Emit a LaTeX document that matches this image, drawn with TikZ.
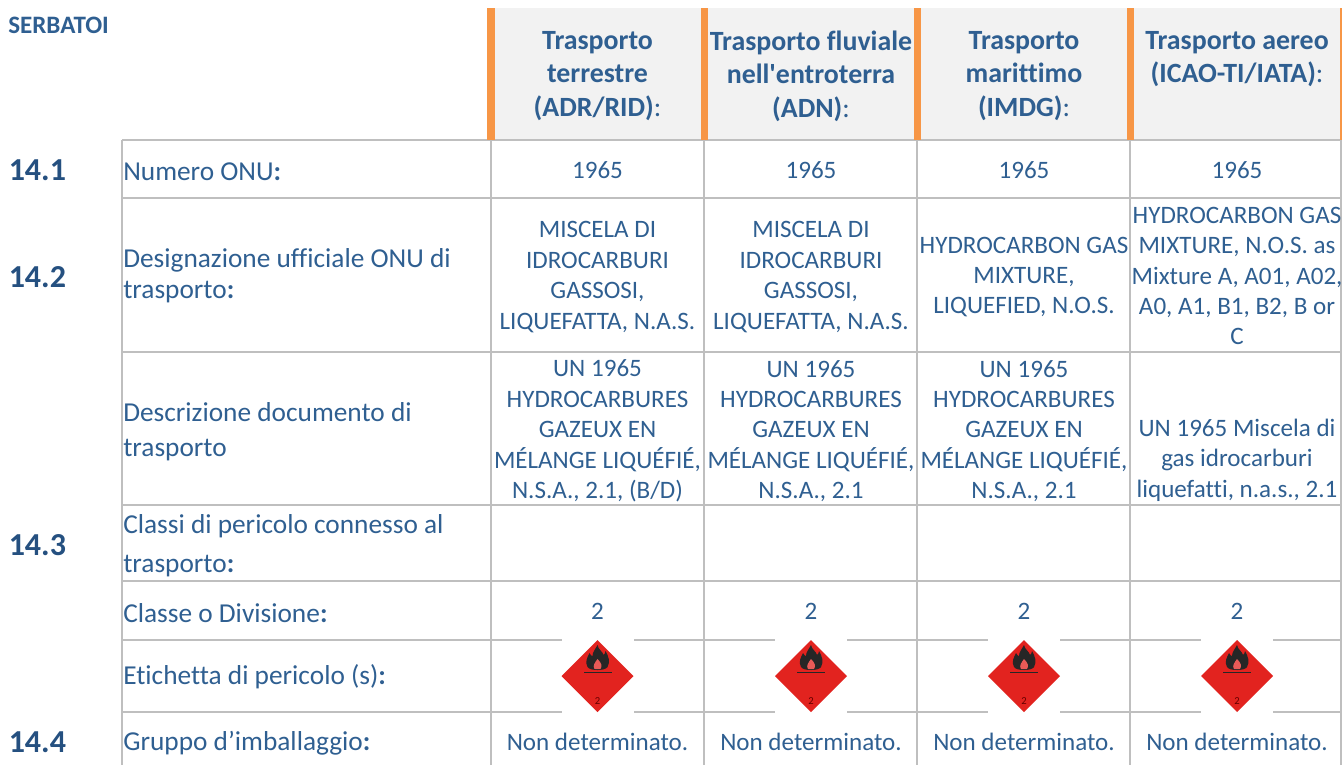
\documentclass[tikz,border=0pt]{standalone}
\usepackage{fontspec}
\setmainfont[Ligatures={TeXOff,CommonOff}]{Carlito}
\definecolor{txt}{HTML}{2F5F91}
\definecolor{dark}{HTML}{255080}
\definecolor{grid}{HTML}{BFBFBF}
\definecolor{hdr}{HTML}{F2F2F2}
\definecolor{orange}{HTML}{F79646}
\definecolor{hazred}{HTML}{E2231F}
\tikzset{
 cell/.style={text=txt,font=\fontsize{18.8}{22.8}\selectfont,align=center,inner sep=0pt},
 lab/.style={text=txt,font=\fontsize{20.5}{23}\selectfont,align=left,anchor=west,inner sep=0pt},
 head/.style={text=txt,font=\fontsize{20.9}{25.2}\selectfont\bfseries,align=center,inner sep=0pt},
 sec/.style={text=dark,font=\fontsize{24}{28}\selectfont\bfseries,anchor=west,inner sep=0pt},
 gridline/.style={draw=grid,line width=1.4pt},
 bar/.style={fill=orange,draw=none},
 haz/.pic={
  \fill[white] (-36,-37) rectangle (36,37);
  \fill[hazred] (0,-36) -- (36,0) -- (0,36) -- (-36,0) -- cycle;
  \fill[black!85] (0,-31) .. controls (1,-26) and (5,-25) .. (6,-21) .. controls (7,-22) and (8,-23) .. (8,-25) .. controls (11,-20) and (13,-14) .. (10,-9) .. controls (8,-5) and (-8,-5) .. (-10,-9) .. controls (-13,-14) and (-10,-19) .. (-8,-23) .. controls (-7,-21) and (-6,-20) .. (-5,-20) .. controls (-5,-24) and (-2,-27) .. (0,-31) -- cycle;
  \fill[hazred!75!white] (0,-17) .. controls (4,-13) and (5,-10) .. (3,-7) -- (-3,-7) .. controls (-5,-10) and (-3,-13) .. (0,-17) -- cycle;
  \fill[black!85] (-14,-4.5) rectangle (14,-2.8);
  \node[text=black!60!red,font=\fontsize{8}{9}\selectfont,inner sep=0pt] at (0,25) {2};
 }
}
\begin{document}
\begin{tikzpicture}[x=0.75pt,y=-0.75pt]
\useasboundingbox (0,0) rectangle (1342,765);
% header band
\fill[hdr] (491,8) rectangle (1342,140);
% grid
\foreach \y in {140,198,352,505,581,640,712}
  \draw[gridline] (122,\y) -- (1342,\y);
\foreach \x in {122,491,704,917,1130}
  \draw[gridline] (\x,140) -- (\x,765);
\draw[gridline] (1341,140) -- (1341,765);
% orange bars
\foreach \a/\b in {487/495,701/708,914/921,1127/1134,1340/1342}
  \fill[bar] (\a,8) rectangle (\b,140);
% top-left
\node[text=txt,font=\fontsize{18.8}{20}\selectfont\bfseries,anchor=west,inner sep=0pt] (serb) at (8,25) {SERBATOI};
\node[sec] (s1) at (8.5,170) {14.1};
\node[sec] (s2) at (8.5,277) {14.2};
\node[sec] (s3) at (8.5,545) {14.3};
\node[sec] (s4) at (8.5,742) {14.4};
% header
\node[head] (h1) at (597.5,76) {Trasporto\\terrestre\\(ADR/RID){\mdseries:}};
\node[head] (h2) at (811,76) {Trasporto fluviale\\nell'entroterra\\(ADN){\mdseries:}};
\node[head] (h3) at (1024,76) {Trasporto\\marittimo\\(IMDG){\mdseries:}};
\node[head] (h4) at (1237,59) {Trasporto aereo\\(ICAO-TI/IATA){\mdseries:}};
% labels
\node[lab] (l1) at (123,172) {Numero ONU{\bfseries:}};
\node[lab] (l2) at (123,275.5) {Designazione ufficiale ONU di\\trasporto{\bfseries:}};
\node[lab] (l3) at (123,432) {Descrizione documento di\\[3pt]trasporto};
\node[lab] (l4) at (123,546) {Classi di pericolo connesso al\\[6pt]trasporto{\bfseries:}};
\node[lab] (l5) at (123,613) {Classe o Divisione{\bfseries:}};
\node[lab] (l6) at (123,677) {Etichetta di pericolo (s){\bfseries:}};
\node[lab] (l7) at (123,743) {Gruppo d’imballaggio{\bfseries:}};
% row 1
\foreach \x/\n in {597.5/a,811/b,1024/c,1237/d} {
  \node[cell] (n\n) at (\x,170) {1965};
  \node[cell] (k\n) at (\x,611) {2};
  \node[cell] (g\n) at (\x,742) {Non determinato.};
  \path (\x,676) pic {haz};
}
% row 2
\node[cell] (d1) at (597.5,277) {MISCELA DI\\IDROCARBURI\\GASSOSI,\\LIQUEFATTA, N.A.S.};
\node[cell] (d2) at (811,277) {MISCELA DI\\IDROCARBURI\\GASSOSI,\\LIQUEFATTA, N.A.S.};
\node[cell] (d3) at (1024,277) {HYDROCARBON GAS\\MIXTURE,\\LIQUEFIED, N.O.S.};
\node[cell] (d4) at (1237,276) {HYDROCARBON GAS\\MIXTURE, N.O.S. as\\Mixture A, A01, A02,\\A0, A1, B1, B2, B or\\C};
% row 3
\node[cell] (t1) at (597.5,431) {UN 1965\\HYDROCARBURES\\GAZEUX EN\\MÉLANGE LIQUÉFIÉ,\\N.S.A., 2.1, (B/D)};
\node[cell] (t2) at (811,431) {UN 1965\\HYDROCARBURES\\GAZEUX EN\\MÉLANGE LIQUÉFIÉ,\\N.S.A., 2.1};
\node[cell] (t3) at (1024,431) {UN 1965\\HYDROCARBURES\\GAZEUX EN\\MÉLANGE LIQUÉFIÉ,\\N.S.A., 2.1};
\node[cell] (t4) at (1237,460) {UN 1965 Miscela di\\gas idrocarburi\\liquefatti, n.a.s., 2.1};
\end{tikzpicture}
\end{document}
